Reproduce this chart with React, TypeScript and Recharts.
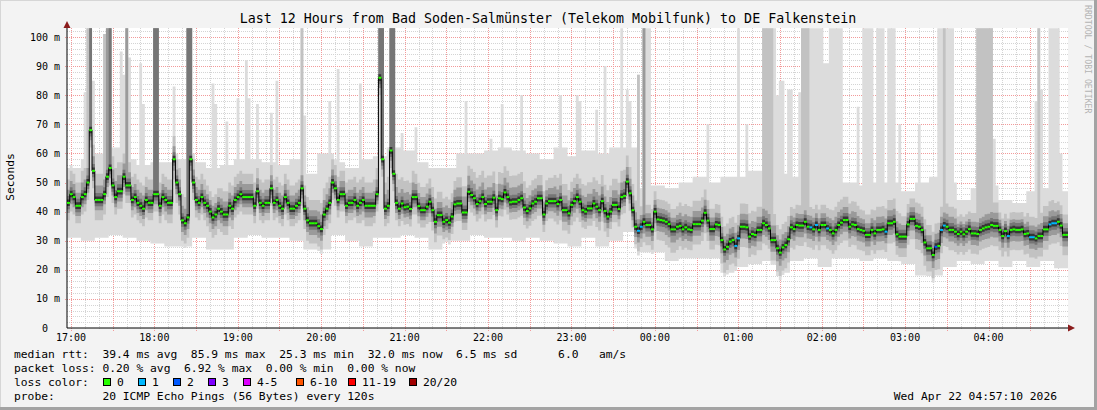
import React from "react";
import { ComposedChart, Area, Line, XAxis, YAxis } from "recharts";

const W = 1097;
const H = 410;
const PL = 67;
const PT = 28;
const PR = 1068;
const PB = 328;
const Y_MAX = 103.1;
const STEP_PX = (PR - PL) / 360;
const FONT = "'DejaVu Sans Mono', 'Liberation Mono', monospace";

// time axis: minutes since window start (16:57:10), one sample every 2 minutes
const hourLabels = ["17:00", "18:00", "19:00", "20:00", "21:00", "22:00", "23:00", "00:00", "01:00", "02:00", "03:00", "04:00"];
const firstHourMin = 2.833;
const yTicks = [0, 10, 20, 30, 40, 50, 60, 70, 80, 90, 100];

// median rtt (ms), 17:00 .. 21:00
const medianA = [
  43, 46, 45, 42, 42, 45, 46, 50, 68, 54,
  44, 44, 44, 46, 52, 55, 49, 45, 47, 47,
  52, 49, 49, 44, 45, 43, 42, 41, 44, 43,
  43, 46, 46, 42, 45, 44, 43, 43, 58, 50,
  46, 37, 36, 38, 58, 50, 44, 43, 45, 43,
  42, 40, 38, 39, 41, 40, 39, 39, 42, 41,
  44, 45, 46, 45, 45, 45, 45, 42, 47, 43,
  42, 43, 43, 48, 43, 44, 42, 41, 45, 43,
  41, 41, 42, 43, 48, 41, 37, 36, 36, 36,
  35, 34, 39, 41, 43, 50, 48, 44, 46, 46,
  42, 43, 43, 44, 42, 43, 44, 42, 42, 42,
  42, 46, 86, 58, 41, 42, 61, 53, 43, 41,
];
// 21:00 .. 01:35
const medianB = [
  42.8, 41.5, 41.7, 40.9, 45, 45,
  41.9, 40.5, 40.5, 41.7, 43.4, 40.5, 36.5, 38.8, 38.8,
  36.5, 37.1, 36.2, 38.3, 42.5, 42.8, 42.8, 39.7, 39.7,
  46.8, 45.7, 44.6, 42.6, 43.6, 45, 42.6, 43.4, 43.4,
  44.8, 40.5, 44.6, 44.3, 46.6, 45, 43.2, 43.4, 43.4,
  44, 44.6, 41.4, 40.2, 41.1, 42.8, 43.4, 44.6, 44.6,
  39, 42.8, 43.6, 43.6, 43.6, 42.6, 44, 40.5, 40.5,
  39.4, 42.3, 43.6, 45, 43.4, 40.5, 40, 41.1, 41.1,
  42.8, 41.7, 40.5, 43.6, 40.2, 38.3, 40, 42.3, 42.3,
  40.9, 45, 45.4, 50.3, 46.3, 40.5, 34.8, 33.4, 34.8, 36.5, 35.4, 35.4,
  33.9, 40, 37.3, 37.1, 36.9, 36.5, 35.7, 33.9, 33.9,
  34.8, 35.1, 33.9, 34.6, 33.9, 33.7, 35.7, 35.7, 35.7,
  36.9, 39.6, 36.9, 34, 34,
  35.6, 35.4, 30.2, 27, 27.9, 29.7, 30.2, 28.2, 30.8, 34.8, 34.8,
  34.6, 31.4, 32.3, 32, 33.7, 33.7,
  36, 35.4, 34.2, 30.2, 30.2,
  27.4, 25.9,
];
// 01:35 .. 04:57
const medianC = [
  27.7, 28.5, 30.5, 34.6, 34, 35.4, 35.2, 35.2,
  36.5, 34.8, 34.6, 33.9, 35.4, 33.7, 35.4, 35.4,
  34.2, 33.7, 32.5, 33.7, 35.4, 36.2, 37.1, 37.1,
  34.8, 35.6, 35.4, 34, 33.7, 33.4, 32, 32,
  33.7, 32.5, 33.7, 33.7, 33.9, 33.1, 36, 36,
  36.5, 32.2, 31.4, 31.4, 31.4, 35.6, 37.5, 37.5,
  35.1, 34.8, 33.7, 29.4, 27.4, 27.4,
  25.1, 27.9, 28.2, 33.7, 35.2, 34.8, 33.7, 33.7,
  33.1, 32.3, 33.1, 32.2, 33.1, 34, 32.5, 32.5,
  32.3, 33.7, 34.2, 34.6, 34.8, 35.4, 35.1, 35.1,
  33.7, 31.6, 33.3, 31.6, 33.7, 33.9, 33.7, 33.7,
  33.9, 32.3, 32.5, 31.2, 31.2, 30.8, 31.6, 31.6,
  33.9, 33.9, 35.6, 36, 36,
  36.5, 35.2, 32, 32,
];
const median = [...medianA, ...medianB, ...medianC];

// samples with lost pings
const loss1Steps = [205, 206, 240, 241, 267, 269, 273, 294, 314, 315, 338, 346, 347, 353, 354, 355];
const loss2Steps = [312];

// smoke, per 10-minute bucket
const lightMin = [
  31, 30, 31, 32, 31, 30, 29, 28, 28, 31,
  27, 27, 31, 32, 31, 31, 30, 27, 27, 32,
  30, 28, 31, 31, 32, 31, 27, 30, 30, 32,
  31, 31, 30, 31, 30, 29, 28, 31, 28, 30,
  33, 26, 26, 23, 24, 24, 24, 19, 21, 22,
  23, 19, 23, 24, 21, 24, 24, 23, 24, 23,
  22, 18, 18, 21, 23, 22, 23, 21, 23, 21,
  23, 20.5,
];
const lightMax = [
  55, 58, 60, 62, 58, 56, 57, 57, 58, 57,
  55, 56, 58, 58, 57, 56, 58, 53, 60, 57,
  55, 58, 59, 62, 61, 57, 55, 55, 60, 60,
  61, 62, 61, 60, 58, 62, 59, 61, 60, 62,
  62, 48, 49, 48, 50, 52, 50, 52, 52, 54,
  55, 53, 52, 48, 50, 50, 50, 49, 50, 50,
  47, 50, 52, 50, 44, 48, 49, 44, 43, 47,
  48, 47,
];
const midBelow = [
  6, 6, 7, 6, 6, 6, 6, 7, 7, 6,
  7, 7, 6, 6, 6, 6, 6, 7, 7, 6,
  6, 7, 6, 6, 6, 6, 7, 6, 6, 6,
  6, 6, 6, 6, 6, 7, 7, 6, 7, 6,
  6, 7, 7, 8, 7, 7, 7, 8, 7, 7,
  7, 8, 7, 7, 7, 7, 7, 7, 7, 7,
  7, 8, 8, 7, 7, 7, 7, 7, 7, 7,
  7, 7,
];
const midAbove = [
  8, 9, 9, 10, 8, 8, 8, 8, 9, 8,
  7, 8, 8, 8, 8, 8, 8, 8, 9, 8,
  8, 8, 9, 10, 9, 8, 8, 8, 9, 9,
  9, 9, 9, 8, 8, 9, 8, 9, 9, 9,
  9, 7, 7, 7, 8, 8, 7, 8, 8, 8,
  9, 8, 7, 7, 7, 8, 8, 7, 8, 8,
  7, 8, 8, 8, 6, 7, 8, 6, 6, 7,
  8, 7,
];
const innerBelow = [
  3.5, 3.5, 3.5, 3.5, 3.5, 3.5, 3.5, 4, 4, 3.5,
  4, 4, 3.5, 3.5, 3.5, 3.5, 3.5, 4, 4, 3.5,
  3.5, 4, 3.5, 3.5, 3.5, 3.5, 4, 3.5, 3.5, 3.5,
  3.5, 3.5, 3.5, 3.5, 3.5, 4, 4, 3.5, 4, 3.5,
  3.5, 4, 4, 4.5, 4, 4, 4, 4.5, 4, 4,
  4, 4.5, 4, 4, 4, 4, 4, 4, 4, 4,
  4, 4.5, 4.5, 4, 4, 4, 4, 4, 4, 4,
  4, 4,
];
const innerAbove = [
  4.5, 5, 5, 5.5, 4.5, 4.5, 4.5, 4.5, 5, 4.5,
  4, 4.5, 4.5, 4.5, 4.5, 4.5, 4.5, 4.5, 5, 4.5,
  4.5, 4.5, 5, 5.5, 5, 4.5, 4.5, 5, 5.5, 5,
  5, 5, 5, 4.5, 4.5, 5, 4.5, 5, 5, 5,
  5, 4, 4, 4, 4.5, 4.5, 4, 4.5, 4.5, 4.5,
  5, 4.5, 4, 4, 4, 4.5, 4.5, 4, 4.5, 4.5,
  4, 4.5, 4.5, 4.5, 3.5, 4, 4.5, 3.5, 3.5, 4,
  4.5, 4,
];
// tall smoke columns: [sample, top (ms), shade level]
const spikes: [number, number, number][] = [
  [6, 81, 0], [7, 103, 1], [8, 103, 3], [9, 85, 0],
  [13, 101, 1], [14, 103, 2], [15, 103, 3],
  [19, 95, 0], [20, 87, 0], [21, 103, 2], [22, 93, 0],
  [26, 91, 0], [27, 77, 0], [31, 103, 3], [32, 103, 3],
  [38, 83, 0], [43, 103, 3], [44, 103, 3],
  [52, 84, 0], [53, 77, 0], [57, 71, 0], [61, 79, 0], [64, 92, 0], [65, 79, 0],
  [68, 77, 0], [73, 74, 0], [75, 85, 0], [84, 103, 1], [85, 73, 0],
  [94, 78, 0], [97, 89, 0], [105, 84, 0],
  [112, 103, 3], [113, 103, 3], [116, 103, 3], [117, 103, 3],
  [120, 67, 0], [125, 69, 0], [143, 78, 0], [152, 65, 0], [156, 77, 0],
  [163, 80, 0], [177, 80, 0], [183, 80, 0], [184, 78, 0], [190, 75, 0],
  [193, 90, 0], [199, 103, 0], [201, 82, 0], [202, 78, 0], [205, 87, 1],
  [207, 103, 2], [208, 103, 0], [209, 103, 0], [230, 70, 0], [241, 103, 0], [244, 70, 0],
  [250, 103, 1], [251, 103, 1], [252, 103, 1], [253, 103, 1], [254, 103, 0], [255, 80, 0],
  [256, 85, 0], [257, 85, 0], [259, 82, 0], [260, 82, 0], [263, 81, 0],
  [264, 103, 1], [265, 103, 1], [266, 103, 1], [267, 103, 0], [268, 103, 0], [269, 103, 0],
  [270, 103, 0], [271, 103, 0], [272, 91, 0], [273, 91, 0],
  [274, 103, 0], [275, 103, 0], [276, 103, 0], [277, 103, 0], [278, 103, 0],
  [284, 76, 0], [286, 103, 0], [287, 103, 0], [288, 103, 0], [289, 103, 0],
  [291, 103, 0], [292, 103, 0], [293, 103, 0], [295, 103, 0], [296, 103, 0], [297, 103, 0],
  [299, 70, 0], [306, 70, 0],
  [313, 103, 0], [314, 103, 0], [315, 103, 1], [316, 103, 0], [317, 103, 0], [318, 103, 0],
  [327, 103, 1], [328, 103, 1], [329, 103, 1], [330, 103, 1], [331, 103, 1], [332, 103, 1],
  [333, 65, 0], [348, 78, 0], [349, 103, 1], [350, 82, 0],
  [353, 103, 0], [354, 103, 0], [355, 103, 0], [356, 103, 0], [357, 60, 0],
];

const LOSS_COLORS = ["#26ff00", "#00b8ff", "#0059ff", "#7e00ff", "#dd00ff", "#ff5500", "#ff0000", "#a10000"];
const legendItems = ["0", "1", "2", "3", "4-5", "6-10", "11-19", "20/20"];
const legendX = [103, 138, 173, 208, 243, 296, 348, 409];

type Row = {
  t: number; med: number; loss: number; last?: boolean;
  l0: [number, number]; l1: [number, number]; l2: [number, number]; l3: [number, number]; l4: [number, number];
};

function buildRows(): Row[] {
  const spikeMap = new Map<number, [number, number][]>();
  for (const [s, top, lvl] of spikes) {
    const arr = spikeMap.get(s) || [];
    arr.push([top, lvl]);
    spikeMap.set(s, arr);
  }
  const rows: Row[] = median.map((m, i) => {
    const b = Math.min(lightMin.length - 1, Math.floor(i / 5));
    const l1lo = m - midBelow[b];
    let l1hi = m + midAbove[b];
    const l2lo = m - innerBelow[b];
    let l2hi = m + innerAbove[b];
    let l3hi = m + 2.4;
    const l0lo = Math.min(lightMin[b], l1lo - 1.5);
    let l0hi = Math.max(lightMax[b], l1hi + 2);
    const sp = spikeMap.get(i);
    if (sp) {
      for (const [top, lvl] of sp) {
        l0hi = Math.max(l0hi, top);
        if (lvl >= 1) l1hi = Math.max(l1hi, top);
        if (lvl >= 2) l2hi = Math.max(l2hi, top);
        if (lvl >= 3) l3hi = Math.max(l3hi, top);
      }
    }
    const loss = loss2Steps.includes(i) ? 2 : loss1Steps.includes(i) ? 1 : 0;
    return {
      t: i * 2, med: m, loss,
      l0: [l0lo, l0hi], l1: [l1lo, l1hi], l2: [l2lo, l2hi],
      l3: [m - 2.2, l3hi], l4: [m - 1.1, m + 1.2],
    };
  });
  const last = rows[rows.length - 1];
  rows.push({ ...last, t: 720, last: true });
  return rows;
}

const rows = buildRows();

const renderLossDot = (p: any) => {
  const { cx, cy, payload, index } = p;
  if (!payload || payload.last || cx == null || cy == null) return <g key={`d${index}`} />;
  return <rect key={`d${index}`} x={cx} y={cy - 1} width={STEP_PX + 0.2} height={2} fill={LOSS_COLORS[payload.loss]} />;
};

const XTick = (p: any) => {
  const idx = Math.round((p.payload.value - firstHourMin) / 60);
  return (
    <text x={p.x} y={PB + 13} textAnchor="middle" fontFamily={FONT} fontSize={10} fill="#000">
      {hourLabels[idx]}
    </text>
  );
};

const YTick = (p: any) => {
  const v = p.payload.value;
  return (
    <text x={v === 0 ? PL - 7 - 12 : PL - 7} y={p.y + 3.5} textAnchor="end" fontFamily={FONT} fontSize={10} fill="#000">
      {v === 0 ? "0" : `${v} m`}
    </text>
  );
};

const hourTicks = hourLabels.map((_, k) => firstHourMin + 60 * k);

// background grid (drawn beneath the smoke, as rrdtool does)
const yPx = (v: number) => Math.round(PB - (v * (PB - PT)) / Y_MAX) + 0.5;
const xPx = (t: number) => Math.round(PL + (t * (PR - PL)) / 720) + 0.5;
const minorYpx: number[] = [];
const majorYpx: number[] = [];
for (let v = 2; v <= 102; v += 2) {
  if (v % 10 === 0) majorYpx.push(yPx(v));
  else minorYpx.push(yPx(v));
}
const minorXpx: number[] = [];
const majorXpx: number[] = [];
for (let k = 0; firstHourMin + 10 * k < 720; k++) {
  const t = firstHourMin + 10 * k;
  if (k % 3 === 0) majorXpx.push(xPx(t));
  else minorXpx.push(xPx(t));
}

const line1 = "median rtt:  39.4 ms avg  85.9 ms max  25.3 ms min  32.0 ms now  6.5 ms sd      6.0   am/s";
const line2 = "packet loss: 0.20 % avg  6.92 % max  0.00 % min  0.00 % now";
const line4 = "probe:       20 ICMP Echo Pings (56 Bytes) every 120s";

export default function App() {
  return (
    <div style={{ position: "fixed", left: 0, top: 0, width: W, height: H, background: "#f3f3f3", overflow: "hidden" }}>
      <svg width={W} height={H} style={{ position: "absolute", left: 0, top: 0 }}>
        <rect x={PL} y={PT} width={PR - PL} height={PB - PT} fill="#ffffff" />
        {minorYpx.map((y) => (
          <line key={`my${y}`} x1={PL} x2={PR} y1={y} y2={y} stroke="#d4d4d4" strokeDasharray="1 1" />
        ))}
        {minorXpx.map((x) => (
          <line key={`mx${x}`} x1={x} x2={x} y1={PT} y2={PB + 2} stroke="#d4d4d4" strokeDasharray="1 1" />
        ))}
        {majorYpx.map((y) => (
          <line key={`My${y}`} x1={PL - 2} x2={PR} y1={y} y2={y} stroke="#f29a9a" strokeDasharray="1 1" />
        ))}
        {majorXpx.map((x) => (
          <line key={`Mx${x}`} x1={x} x2={x} y1={PT} y2={PB + 3} stroke="#f29a9a" strokeDasharray="1 1" />
        ))}
      </svg>
      <div style={{ position: "absolute", left: 0, top: 0 }}>
        <ComposedChart
          width={W}
          height={H}
          data={rows}
          margin={{ left: PL - 60, top: PT, right: W - PR, bottom: H - PB - 30 }}
        >
          <XAxis
            dataKey="t"
            type="number"
            domain={[0, 720]}
            ticks={hourTicks}
            tick={<XTick />}
            tickLine={false}
            tickSize={0}
            axisLine={{ stroke: "#000" }}
            height={30}
            allowDataOverflow
            interval={0}
          />
          <YAxis
            type="number"
            domain={[0, Y_MAX]}
            ticks={yTicks}
            tick={<YTick />}
            tickLine={false}
            tickSize={0}
            tickMargin={7}
            axisLine={{ stroke: "#000" }}
            width={60}
            allowDataOverflow
            interval={0}
          />
          <Area dataKey="l0" type="stepAfter" stroke="none" fill="#dcdcdc" fillOpacity={1} isAnimationActive={false} />
          <Area dataKey="l1" type="stepAfter" stroke="none" fill="#c2c2c2" fillOpacity={1} isAnimationActive={false} />
          <Area dataKey="l2" type="stepAfter" stroke="none" fill="#9a9a9a" fillOpacity={1} isAnimationActive={false} />
          <Area dataKey="l3" type="stepAfter" stroke="none" fill="#767676" fillOpacity={1} isAnimationActive={false} />
          <Area dataKey="l4" type="stepAfter" stroke="none" fill="#363636" fillOpacity={1} isAnimationActive={false} />
          <Line dataKey="med" type="stepAfter" stroke="#000" strokeWidth={1} dot={false} isAnimationActive={false} />
          <Line dataKey="med" type="stepAfter" stroke="none" dot={renderLossDot} activeDot={false} isAnimationActive={false} />
        </ComposedChart>
      </div>
      <svg width={W} height={H} style={{ position: "absolute", left: 0, top: 0, pointerEvents: "none" }}>
        <rect x={0} y={0} width={W} height={1} fill="#d6d6d6" />
        <rect x={0} y={0} width={1} height={H} fill="#d6d6d6" />
        <rect x={0} y={H - 3} width={W} height={3} fill="#a3a3a3" />
        <rect x={W - 3} y={0} width={3} height={H} fill="#a3a3a3" />
        <polygon points={`${PL - 3.5},${PT} ${PL + 3.5},${PT} ${PL},${PT - 7}`} fill="#8b1c1c" />
        <polygon points={`${PR},${PB - 3.5} ${PR},${PB + 3.5} ${PR + 7},${PB}`} fill="#8b1c1c" />
        <text x={548} y={23} textAnchor="middle" fontFamily={FONT} fontSize={13.3} fill="#000">
          Last 12 Hours from Bad Soden-Salmünster (Telekom Mobilfunk) to DE Falkenstein
        </text>
        <text x={14} y={177} textAnchor="middle" fontFamily={FONT} fontSize={11.3} fill="#000" transform="rotate(-90 14 177)">
          Seconds
        </text>
        <text x={1085} y={5} fontFamily={FONT} fontSize={8.2} fill="#b4b4b4" transform="rotate(90 1085 5)">
          RRDTOOL / TOBI OETIKER
        </text>
        <text x={14} y={358} fontFamily={FONT} fontSize={11.3} fill="#000" xmlSpace="preserve" style={{ whiteSpace: "pre" }}>
          {line1}
        </text>
        <text x={14} y={372} fontFamily={FONT} fontSize={11.3} fill="#000" xmlSpace="preserve" style={{ whiteSpace: "pre" }}>
          {line2}
        </text>
        <text x={14} y={386} fontFamily={FONT} fontSize={11.3} fill="#000">
          loss color:
        </text>
        {legendItems.map((lab, k) => (
          <g key={lab}>
            <rect x={legendX[k] + 0.5} y={378.5} width={7} height={7} fill={LOSS_COLORS[k]} stroke="#000" strokeWidth={1} />
            <text x={legendX[k] + 14} y={386} fontFamily={FONT} fontSize={11.3} fill="#000">
              {lab}
            </text>
          </g>
        ))}
        <text x={14} y={400} fontFamily={FONT} fontSize={11.3} fill="#000" xmlSpace="preserve" style={{ whiteSpace: "pre" }}>
          {line4}
        </text>
        <text x={1057} y={400} textAnchor="end" fontFamily={FONT} fontSize={11.3} fill="#000">
          Wed Apr 22 04:57:10 2026
        </text>
      </svg>
    </div>
  );
}
